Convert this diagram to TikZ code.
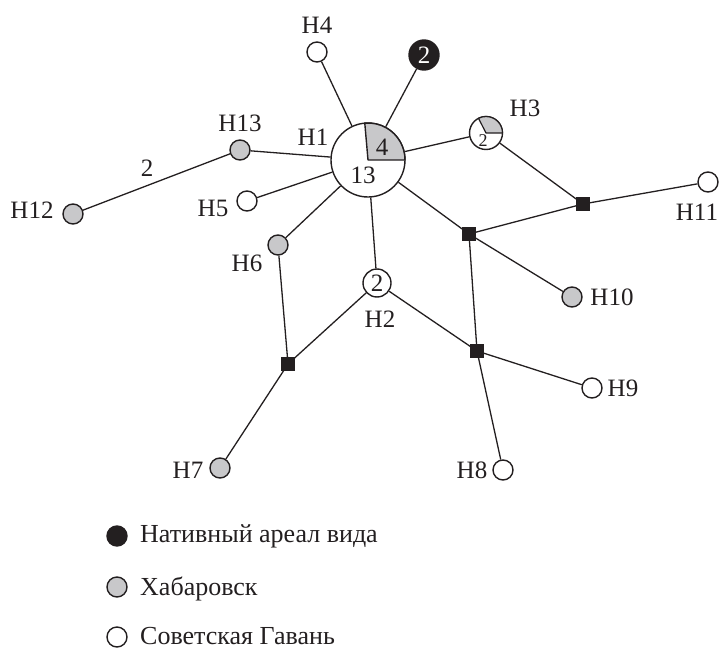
\documentclass[tikz,border=0pt]{standalone}
\usepackage{fontspec}
\setmainfont{Liberation Serif}
\definecolor{hgray}{RGB}{200,200,202}
\definecolor{ink}{RGB}{35,31,32}
\begin{document}
\begin{tikzpicture}[x=1pt,y=-1pt,
  wn/.style={circle,draw=ink,line width=1.4pt,fill=white,inner sep=0pt,minimum size=20pt},
  gn/.style={wn,fill=hgray},
  bn/.style={wn,fill=ink},
  sqn/.style={rectangle,fill=ink,inner sep=0pt,minimum size=14pt},
  lbl/.style={font=\fontsize{25}{30}\selectfont,inner sep=0pt,text=ink},
  small/.style={font=\fontsize{18}{20}\selectfont,inner sep=0pt,text=ink},
  edge/.style={draw=ink,line width=1.3pt},
  legtxt/.style={font=\fontsize{26}{30}\selectfont,inner sep=0pt,anchor=base west,text=ink}
]
\useasboundingbox (0,0) rectangle (722,650);
% nodes
\node[wn,minimum size=74pt] (H1) at (368,160) {};
\node[wn] (H4) at (317,52) {};
\node[bn,minimum size=30pt] (N) at (424,55) {};
\node[wn,minimum size=33pt] (H3) at (486,133) {};
\node[gn] (H13) at (240,150) {};
\node[gn] (H12) at (73,214) {};
\node[wn] (H5) at (247,201) {};
\node[gn] (H6) at (278,245) {};
\node[wn,minimum size=28pt] (H2) at (377,283) {};
\node[sqn] (S1) at (469,234) {};
\node[sqn] (S2) at (583,204) {};
\node[sqn] (S3) at (477,351) {};
\node[sqn] (S4) at (288,364) {};
\node[wn] (H11) at (708,182) {};
\node[gn] (H10) at (572,297) {};
\node[wn] (H9) at (592,388) {};
\node[wn] (H8) at (503,470) {};
\node[gn] (H7) at (220,468) {};
% edges
\path[edge] (H1) -- (H4);
\path[edge] (H1) -- (N);
\path[edge] (H1) -- (H3);
\path[edge] (H1) -- (H13);
\path[edge] (H1) -- (H5);
\path[edge] (H1) -- (H6);
\path[edge] (H1) -- (H2);
\path[edge] (H1) -- (S1.center);
\path[edge] (H13) -- (H12);
\path[edge] (H3) -- (S2.center);
\path[edge] (S1.center) -- (S2.center);
\path[edge] (S2.center) -- (H11);
\path[edge] (S1.center) -- (H10);
\path[edge] (S1.center) -- (S3.center);
\path[edge] (H2) -- (S3.center);
\path[edge] (H2) -- (S4.center);
\path[edge] (S3.center) -- (H9);
\path[edge] (S3.center) -- (H8);
\path[edge] (H6) -- (S4.center);
\path[edge] (S4.center) -- (H7);
% squares on top
\node[sqn] at (S1) {};
\node[sqn] at (S2) {};
\node[sqn] at (S3) {};
\node[sqn] at (S4) {};
% pie sectors
\filldraw[fill=hgray,draw=ink,line width=1.4pt,line join=round] (H1.center) -- ++(0:37pt) arc[start angle=0,end angle=95,radius=37pt] -- cycle;
\filldraw[fill=hgray,draw=ink,line width=1.2pt,line join=round] (H3.center) -- ++(0:16.5pt) arc[start angle=0,end angle=117,radius=16.5pt] -- cycle;
% numbers inside
\node[lbl] (n4) at (382,147) {4};
\node[lbl] (n13) at (363,175.5) {13};
\node[lbl,text=white] (nN) at (424,55) {2};
\node[small] (n3) at (483,141) {2};
\node[lbl] (n2) at (377,283) {2};
\node[lbl] (e2) at (147,168) {2};
% labels
\node[lbl] (L4) at (317,25) {H4};
\node[lbl] (L1) at (313,137) {H1};
\node[lbl] (L3) at (525,108) {H3};
\node[lbl] (L13) at (240,123) {H13};
\node[lbl] (L12) at (32,210) {H12};
\node[lbl] (L5) at (213,208) {H5};
\node[lbl] (L6) at (247,263) {H6};
\node[lbl] (L2) at (380,319) {H2};
\node[lbl] (L11) at (697,212) {H11};
\node[lbl] (L10) at (612,297) {H10};
\node[lbl] (L9) at (623,388) {H9};
\node[lbl] (L8) at (472,470) {H8};
\node[lbl] (L7) at (188,470) {H7};
% legend
\node[bn] (k1) at (117,536) {};
\node[gn] (k2) at (117,587) {};
\node[wn] (k3) at (117,637) {};
\node[legtxt] (t1) at (140,542) {Нативный ареал вида};
\node[legtxt] (t2) at (140,595) {Хабаровск};
\node[legtxt] (t3) at (140,644) {Советская Гавань};
\end{tikzpicture}
\end{document}
